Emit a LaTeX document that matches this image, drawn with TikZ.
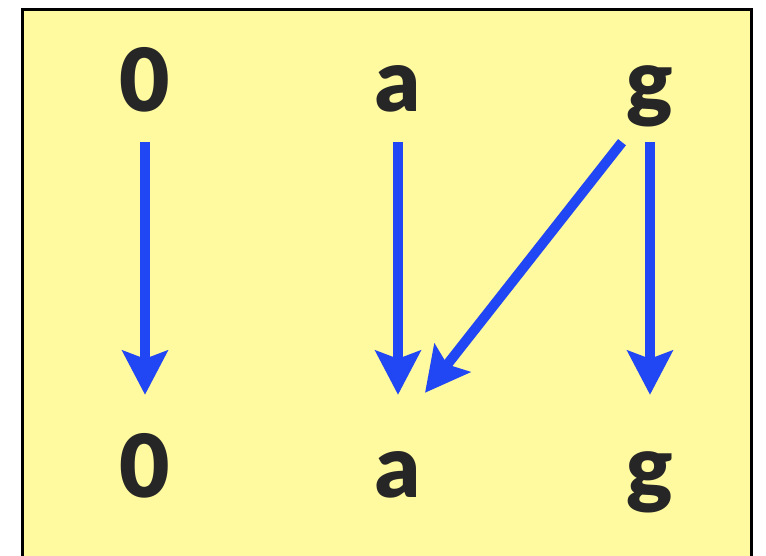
\documentclass[tikz,border=0pt]{standalone}
\usepackage{fontspec}
\setmainfont{Lato}[BoldFont={Lato Black}]
\usepackage{xcolor}
\usepackage{tikz}
\usetikzlibrary{arrows.meta}
\definecolor{mapblue}{HTML}{2146F4}
\definecolor{paneyellow}{HTML}{FFFA9F}
\definecolor{glyphgray}{HTML}{262626}

\begin{document}
\begin{tikzpicture}[
    x=1pt, y=-1pt,
    every node/.style={anchor=base, inner sep=0pt,
                       text height=62pt, text depth=18pt,
                       text=glyphgray,
                       font=\fontsize{87}{87}\selectfont\bfseries},
    maparrow/.style={draw=mapblue, line width=10pt,
                     -{Stealth[length=44pt, width=45pt, inset=8pt]}}
]
\useasboundingbox (0,0) rectangle (766,556);
\clip (0,0) rectangle (766,556);
\draw[fill=paneyellow, line width=3pt] (22,10) rectangle (751,620);

\node (top0) at (145,112) {0};
\node (topa) at (398,112) {a};
\node (topg) at (650,112) {g};
\node (bot0) at (145,497) {0};
\node (bota) at (398,497) {a};
\node (botg) at (650,497) {g};

\draw[maparrow, shorten <=12pt, shorten >=40pt] (top0.south) -- (bot0.north);
\draw[maparrow, shorten <=12pt, shorten >=40pt] (topa.south) -- (bota.north);
\draw[maparrow, shorten <=12pt, shorten >=40pt] (topg.south) -- (botg.north);
\draw[maparrow] ([shift={(-28pt,-12pt)}]topg.south) -- ([shift={(27pt,42pt)}]bota.north);
\end{tikzpicture}
\end{document}
